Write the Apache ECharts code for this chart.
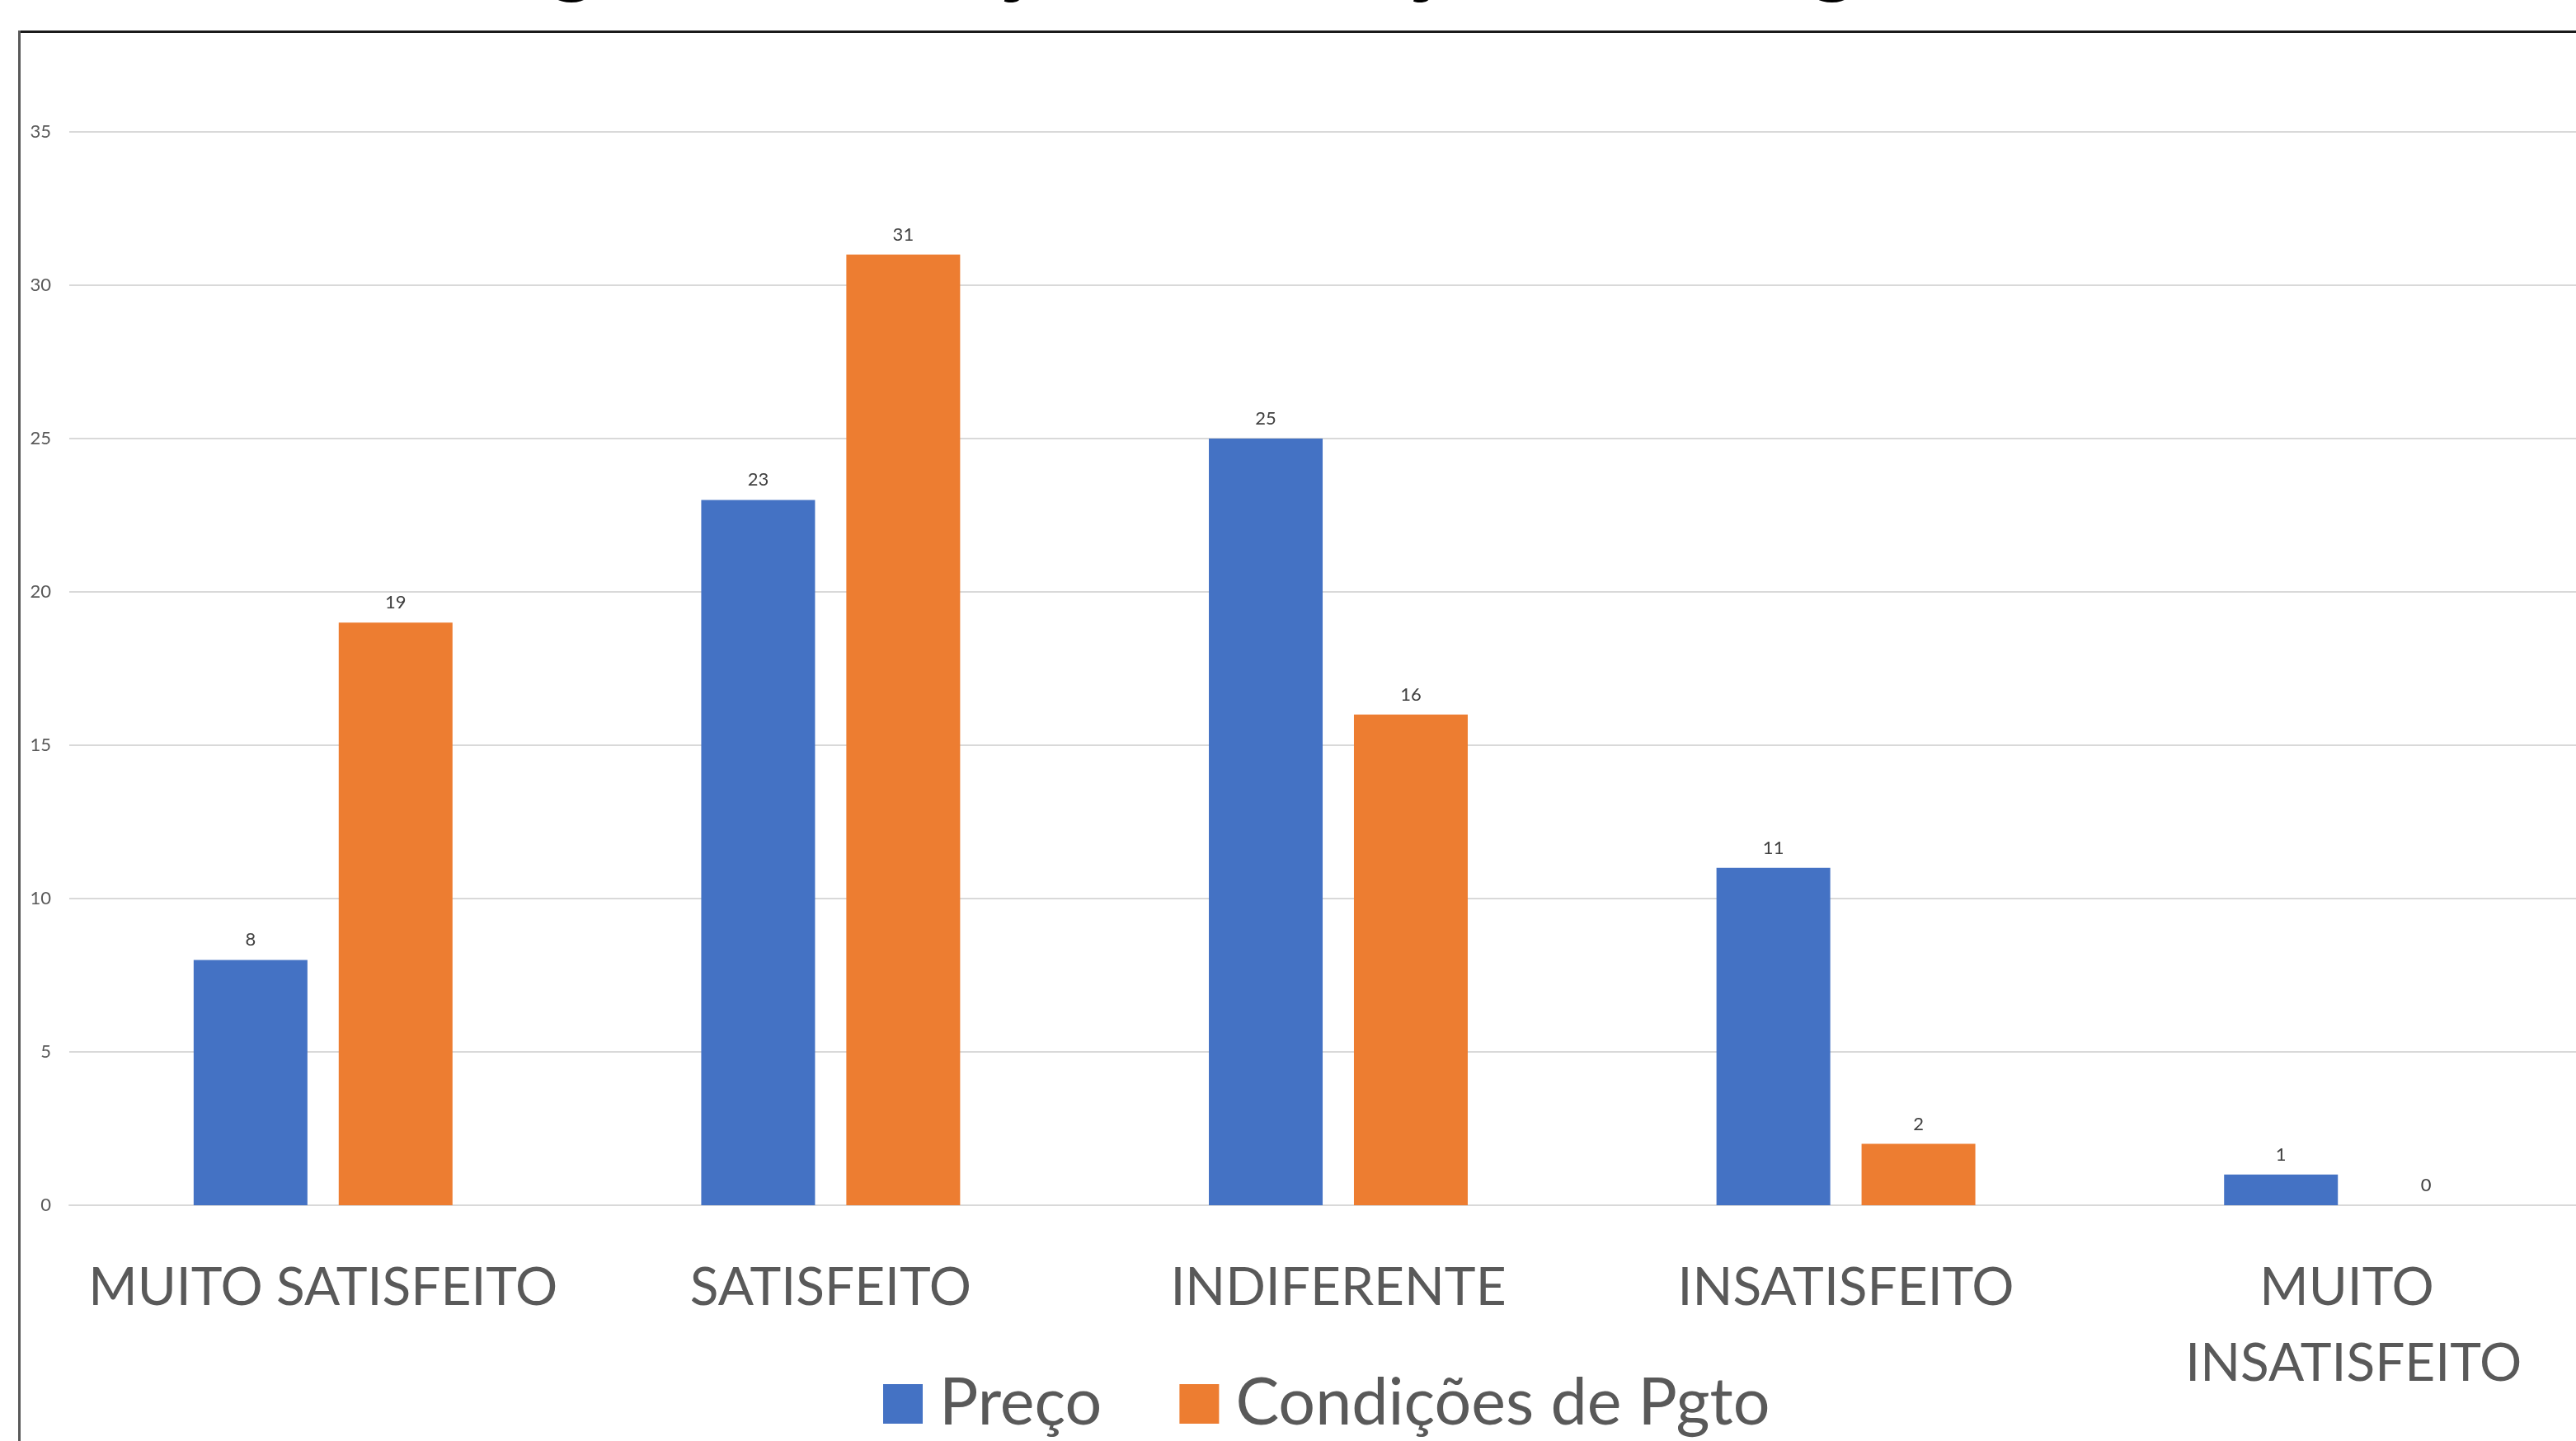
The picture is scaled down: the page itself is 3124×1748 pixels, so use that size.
<!DOCTYPE html>
<html>
<head>
<meta charset="utf-8">
<title>Satisfação - Preço e Condições de Pgto</title>
<script src="https://cdn.jsdelivr.net/npm/echarts@6/dist/echarts.min.js"></script>
<style>
  html, body { margin: 0; padding: 0; background: #fff; }
  #chart { width: 3124px; height: 1748px; }
  /* moldura do gráfico (cortada na imagem original) */
  .frame-top { position: absolute; left: 22px; top: 37px; width: 3102px; height: 3px; background: #1a1a1a; }
  .frame-left { position: absolute; left: 22px; top: 37px; width: 3px; height: 1711px; background: #595959; }
</style>
</head>
<body>
<div id="chart"></div>
<div class="frame-top"></div>
<div class="frame-left"></div>
<script>
var categorias = ["MUITO SATISFEITO", "SATISFEITO", "INDIFERENTE", "INSATISFEITO", "MUITO INSATISFEITO"];
var preco = [8, 23, 25, 11, 1];
var condicoesPgto = [19, 31, 16, 2, 0];
var serieNomes = ["Preço", "Condições de Pgto"];
var eixoY = { min: 0, max: 35, interval: 5 };

var fonte = "Lato, 'Open Sans', sans-serif";
var chart = echarts.init(document.getElementById("chart"));

function barSerie(nome, dados, cor) {
  return {
    name: nome,
    type: "bar",
    data: dados,
    barWidth: 138,
    barGap: "27.5%",
    itemStyle: { color: cor },
    label: {
      show: true,
      position: "top",
      distance: 13,
      color: "#404040",
      fontFamily: fonte,
      fontSize: 22
    }
  };
}

chart.setOption({
  animation: false,
  backgroundColor: "#fff",
  // título fica quase todo fora da imagem (só aparecem as descendentes)
  title: {
    text: "Porcentagem do Preço e Condições de Pagamento",
    left: 240,
    top: -108,
    textStyle: {
      fontFamily: fonte,
      fontWeight: "bold",
      fontSize: 106,
      color: "#000"
    }
  },
  legend: {
    data: serieNomes,
    left: 1066,
    top: 1656,
    icon: "rect",
    itemWidth: 48,
    itemHeight: 48,
    itemGap: 94,
    textStyle: {
      fontFamily: fonte,
      fontSize: 79,
      lineHeight: 84,
      color: "#595959",
      padding: [0, 0, 0, 15]
    }
  },
  grid: {
    left: 84,
    right: -38,
    top: 160,
    bottom: 286,
    containLabel: false,
    outerBoundsMode: "none"
  },
  xAxis: {
    type: "category",
    data: categorias,
    axisTick: { show: false },
    axisLine: { lineStyle: { color: "#d9d9d9", width: 2 } },
    axisLabel: {
      interval: 0,
      margin: 54,
      fontFamily: fonte,
      fontSize: 64,
      lineHeight: 92,
      color: "#595959",
      width: 600,
      overflow: "break"
    }
  },
  yAxis: {
    type: "value",
    min: eixoY.min,
    max: eixoY.max,
    interval: eixoY.interval,
    axisLine: { show: false },
    axisTick: { show: false },
    splitLine: { lineStyle: { color: "#d9d9d9", width: 2 } },
    axisLabel: {
      margin: 22,
      fontFamily: fonte,
      fontSize: 22,
      color: "#595959"
    }
  },
  series: [
    barSerie(serieNomes[0], preco, "#4472c4"),
    barSerie(serieNomes[1], condicoesPgto, "#ed7d31")
  ]
});
</script>
</body>
</html>
